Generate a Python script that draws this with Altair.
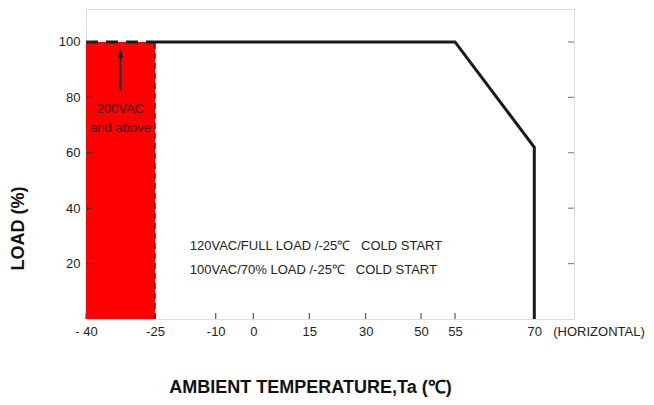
import altair as alt
import pandas as pd

# ---- data ----
x_ticks = [-40, -25, -10, 0, 15, 30, 50, 55, 70]
y_ticks = [20, 40, 60, 80, 100]

curve_temp = [-25, 55, 70, 70]
curve_load = [100, 100, 62, 0]

dash_temp = [-40, -25]
dash_load = [100, 100]

region_temp = [-40, -25]
region_load = [0, 100]

arrow_temp = -32.5
arrow_from, arrow_to = 82.4, 96.0
region_text = ["200VAC", "and above"]
region_text_load = [75.9, 69.0]

note_text = ["120VAC/FULL LOAD /-25\u2103\u00a0\u00a0\u00a0COLD START",
             "100VAC/70% LOAD /-25\u2103\u00a0\u00a0\u00a0COLD START"]
note_load = [26.5, 17.8]
note_temp = -16.4

# ---- layout / style ----
W, H = 488, 310
FONT = "Liberation Sans, Arial, sans-serif"

# the reference axis is not linear: piecewise scale
xscale = alt.Scale(domain=[-40, -25, -10, 0, 15, 30, 50, 55, 70, 77.5],
                   range=[0, 69, 129.7, 167.3, 223.3, 279.7, 335, 369, 448.3, 488],
                   nice=False, zero=False)
yscale = alt.Scale(domain=[0, 111.9], nice=False, zero=False)

xaxis = alt.Axis(values=x_ticks,
                 labelExpr="datum.value == -40 ? '- 40' : '' + datum.value",
                 title="AMBIENT TEMPERATURE,Ta (\u2103)",
                 ticks=False, domain=False, grid=False,
                 labelPadding=6, labelFontSize=13, labelFont=FONT, labelColor="#222",
                 labelFlush=False, labelOverlap=False,
                 titleFont=FONT, titleFontSize=18, titleFontWeight="bold", titleColor="#111",
                 titleX=224, titleY=68, titleBaseline="middle", titleAlign="center")
yaxis = alt.Axis(values=y_ticks, title="LOAD (%)",
                 ticks=False, domain=False, grid=False,
                 labelPadding=6, labelFontSize=13, labelFont=FONT, labelColor="#222",
                 labelFlush=False, labelOverlap=False,
                 titleFont=FONT, titleFontSize=18, titleFontWeight="bold", titleColor="#111",
                 titleX=-68, titleY=219, titleAngle=270, titleBaseline="middle", titleAlign="center")

region_df = pd.DataFrame({"t0": [region_temp[0]], "t1": [region_temp[1]],
                          "l0": [region_load[0]], "l1": [region_load[1]]})
red = alt.Chart(region_df).mark_rect(color="#ff0000").encode(
    x=alt.X("t0:Q", scale=xscale, axis=xaxis),
    x2="t1:Q",
    y=alt.Y("l0:Q", scale=yscale, axis=yaxis),
    y2="l1:Q",
)

xt_df = pd.DataFrame({"t": x_ticks})
bottom_ticks = alt.Chart(xt_df).mark_rule(color="#555", strokeWidth=1.2).encode(
    x=alt.X("t:Q", scale=xscale),
    y=alt.value(H), y2=alt.value(H - 6),
)

yt_df = pd.DataFrame({"l": y_ticks})
left_ticks = alt.Chart(yt_df).mark_rule(color="#333", strokeWidth=1.2).encode(
    y=alt.Y("l:Q", scale=yscale), x=alt.value(0), x2=alt.value(6))
right_ticks = alt.Chart(yt_df).mark_rule(color="#888", strokeWidth=1.2).encode(
    y=alt.Y("l:Q", scale=yscale), x=alt.value(W - 6), x2=alt.value(W))

vdash = alt.Chart(region_df).mark_rule(color="#4a1a1a", strokeWidth=1.5,
                                       strokeDash=[6, 4]).encode(
    x=alt.X("t1:Q", scale=xscale), y=alt.Y("l0:Q", scale=yscale), y2="l1:Q")

dash_df = pd.DataFrame({"t": dash_temp, "l": dash_load})
top_dash = alt.Chart(dash_df).mark_line(color="#1a1a1a", strokeWidth=3,
                                        strokeDash=[12, 8]).encode(
    x=alt.X("t:Q", scale=xscale), y=alt.Y("l:Q", scale=yscale))

curve_df = pd.DataFrame({"t": curve_temp, "l": curve_load, "i": range(len(curve_temp))})
curve = alt.Chart(curve_df).mark_line(color="#1a1a1a", strokeWidth=3,
                                      strokeJoin="miter").encode(
    x=alt.X("t:Q", scale=xscale), y=alt.Y("l:Q", scale=yscale),
    order=alt.Order("i:Q"))

arrow_df = pd.DataFrame({"t": [arrow_temp], "a": [arrow_from], "b": [arrow_to]})
arrow_shaft = alt.Chart(arrow_df).mark_rule(color="#111", strokeWidth=1.5).encode(
    x=alt.X("t:Q", scale=xscale), y=alt.Y("a:Q", scale=yscale), y2="b:Q")
arrow_head = alt.Chart(arrow_df).mark_point(
    shape="M0,-1L0.55,1L-0.55,1Z", filled=True, color="#111", size=81, opacity=1
).encode(x=alt.X("t:Q", scale=xscale), y=alt.Y("b:Q", scale=yscale))

rt_df = pd.DataFrame({"t": [arrow_temp] * 2, "l": region_text_load, "s": region_text})
region_label = alt.Chart(rt_df).mark_text(font=FONT, fontSize=13, color="#3d0000",
                                          align="center", baseline="middle").encode(
    x=alt.X("t:Q", scale=xscale), y=alt.Y("l:Q", scale=yscale), text="s:N")

note_df = pd.DataFrame({"t": [note_temp] * 2, "l": note_load, "s": note_text})
notes = alt.Chart(note_df).mark_text(font=FONT, fontSize=13, color="#222",
                                     align="left", baseline="middle").encode(
    x=alt.X("t:Q", scale=xscale), y=alt.Y("l:Q", scale=yscale), text="s:N")

horiz = alt.Chart(pd.DataFrame({"s": ["(HORIZONTAL)"]})).mark_text(
    font=FONT, fontSize=13, color="#222", align="center", baseline="middle").encode(
    x=alt.value(513), y=alt.value(323), text="s:N")

chart = alt.layer(
    bottom_ticks, red, vdash, top_dash, curve, left_ticks, right_ticks,
    arrow_shaft, arrow_head, region_label, notes, horiz,
).properties(
    width=W, height=H,
    padding={"left": 78, "top": 1, "right": 72, "bottom": 78},
    autosize=alt.AutoSizeParams(type="none"),
).configure_view(
    stroke="#999", strokeWidth=1.5,
).configure(background="white")

chart.save("out.html", embed_options={"renderer": "svg", "actions": False})
